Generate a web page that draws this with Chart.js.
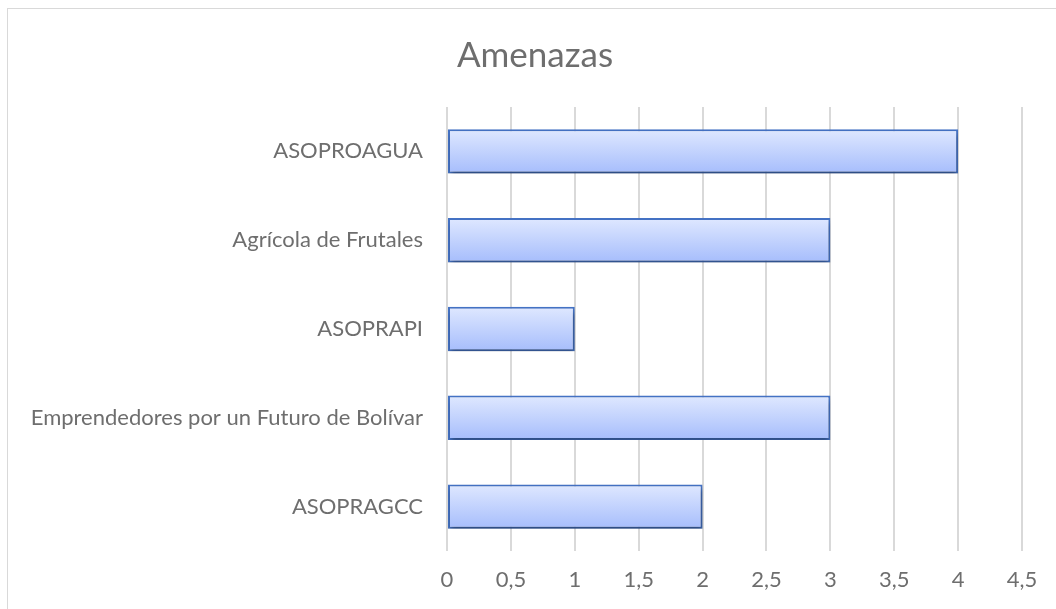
<!DOCTYPE html>
<html><head><meta charset="utf-8">
<script src="https://cdn.jsdelivr.net/npm/chart.js@4.4.0/dist/chart.umd.min.js"></script>
<style>
html,body{margin:0;padding:0;background:#fff;overflow:hidden}
#wrap{position:absolute;left:0;top:0;width:1056px;height:609px}
#frame{position:absolute;left:7px;top:8px;width:1060px;height:620px;border:1px solid #d9d9d9;box-sizing:border-box}
</style></head>
<body>
<div id="wrap"><div id="frame"></div><canvas id="c" width="1056" height="609"></canvas></div>
<script>
const categories = ["ASOPROAGUA","Agrícola de Frutales","ASOPRAPI","Emprendedores por un Futuro de Bolívar","ASOPRAGCC"];
const values = [4,3,1,3,2];
const tickLabels = ["0","0,5","1","1,5","2","2,5","3","3,5","4","4,5"];
const chartTitle = "Amenazas";

const FONT = "Lato, 'Liberation Sans', sans-serif";
const TEXT = '#6e6e6e';

const shadowPlugin = {
  id:'shadow',
  beforeDatasetsDraw(chart){const c=chart.ctx;c.save();c.shadowColor='rgba(0,0,0,0.35)';c.shadowBlur=5;c.shadowOffsetX=1;c.shadowOffsetY=4;},
  afterDatasetsDraw(chart){chart.ctx.restore();}
};

function barGradient(ctx){
  const chart = ctx.chart;
  const ys = chart.scales && chart.scales.y;
  if(!ys || ctx.dataIndex===undefined) return '#c4d3fe';
  const yc = ys.getPixelForValue(ctx.dataIndex);
  const h = (ys.bottom-ys.top)/categories.length*0.5;
  if(!isFinite(yc) || !isFinite(h) || h<=0) return '#c4d3fe';
  const g = chart.ctx.createLinearGradient(0,yc-h/2,0,yc+h/2);
  g.addColorStop(0,'#dfe8ff');
  g.addColorStop(1,'#a6bdfc');
  return g;
}

new Chart(document.getElementById('c'),{
  type:'bar',
  data:{labels:categories,datasets:[{data:values,backgroundColor:barGradient,borderColor:'#4472c4',borderWidth:2,borderSkipped:false,barPercentage:0.5,categoryPercentage:1}]},
  options:{
    indexAxis:'y',responsive:false,animation:false,
    layout:{padding:{left:22,right:8,top:0,bottom:0}},
    plugins:{legend:{display:false},tooltip:{enabled:false},
      title:{display:true,text:chartTitle,color:TEXT,font:{family:FONT,size:35,weight:'normal'},padding:{top:35,bottom:30}}},
    scales:{
      x:{min:0,max:4.5,
        ticks:{stepSize:0.5,color:TEXT,font:{family:FONT,size:22},padding:16,
          callback:(v,i)=>tickLabels[i]},
        grid:{color:'#d9d9d9',lineWidth:2,drawTicks:false},border:{display:false},
        afterFit(s){s.height=58;}},
      y:{ticks:{color:TEXT,font:{family:FONT,size:22},padding:24},
        grid:{display:false,drawTicks:false},border:{display:false},
        afterFit(s){s.width=425;}},
      y2:{type:'category',axis:'y',position:'right',labels:categories,
        ticks:{display:false},grid:{display:false,drawTicks:false},border:{display:false},
        afterFit(s){s.width=26;}}
    }
  },
  plugins:[shadowPlugin]
});
</script>
</body></html>
